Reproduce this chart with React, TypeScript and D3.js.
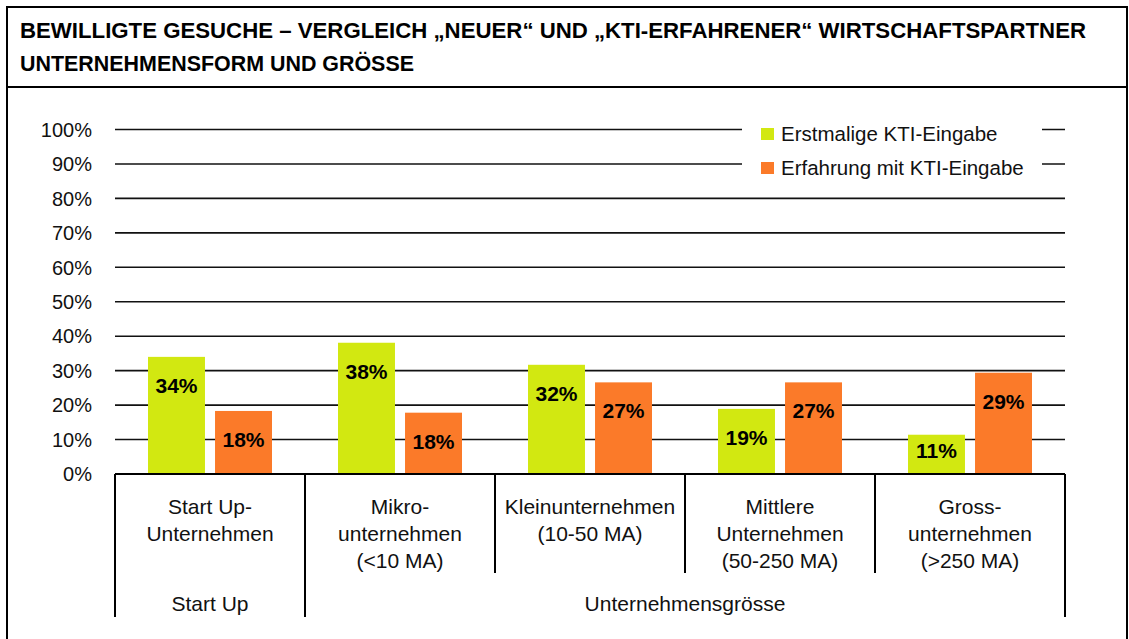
import React from 'react'
import * as d3 from 'd3'

const categories = ['Start Up', 'Mikro', 'Klein', 'Mittlere', 'Gross']
const categoryLines = [
  ['Start Up-', 'Unternehmen'],
  ['Mikro-', 'unternehmen', '(<10 MA)'],
  ['Kleinunternehmen', '(10-50 MA)'],
  ['Mittlere', 'Unternehmen', '(50-250 MA)'],
  ['Gross-', 'unternehmen', '(>250 MA)'],
]
const groupLabels = ['Start Up', 'Unternehmensgrösse']
const groupSpans = [[0, 0], [1, 4]]
const seriesNames = ['Erstmalige KTI-Eingabe', 'Erfahrung mit KTI-Eingabe']
const seriesColors = ['#d2e811', '#fb7a29']
const erstmalig = [34.0, 38.1, 31.7, 18.9, 11.4]
const erfahren = [18.3, 17.8, 26.6, 26.6, 29.4]
const yTicks = [0, 10, 20, 30, 40, 50, 60, 70, 80, 90, 100]
const titleLines = [
  'BEWILLIGTE GESUCHE – VERGLEICH „NEUER“ UND „KTI-ERFAHRENER“ WIRTSCHAFTSPARTNER',
  'UNTERNEHMENSFORM UND GRÖSSE',
]

const W = 1129
const H = 639
const font = "'Liberation Sans', Arial, sans-serif"

export default function App() {
  const x = d3.scaleBand().domain(categories).range([115, 1065]).padding(0)
  const inner = d3.scaleBand().domain(seriesNames).range([33, 157]).paddingInner(0.15).paddingOuter(0)
  const y = d3.scaleLinear().domain([0, 100]).range([474, 129.5])
  const series = [erstmalig, erfahren]

  const xl = x.range()[0]
  const xr = x.range()[1]

  return (
    <svg width={W} height={H} style={{ position: 'absolute', left: 0, top: 0, display: 'block' }} fontFamily={font}>
      <rect x={0} y={0} width={W} height={H} fill="#fff" />
      {/* frame + title */}
      <rect x={7} y={7} width={1120} height={H + 20} fill="none" stroke="#000" strokeWidth={2} />
      <line x1={7} x2={1127} y1={87} y2={87} stroke="#000" strokeWidth={2} />
      <text x={20} y={38} fontSize={22} fontWeight="bold" textLength={1066} lengthAdjust="spacingAndGlyphs">{titleLines[0]}</text>
      <text x={20} y={71} fontSize={22} fontWeight="bold" textLength={394} lengthAdjust="spacingAndGlyphs">{titleLines[1]}</text>

      {/* gridlines */}
      {yTicks.filter(t => t > 0).map(t => (
        <line key={t} x1={xl} x2={xr} y1={y(t)} y2={y(t)} stroke="#111" strokeWidth={1.6} />
      ))}
      {yTicks.map(t => (
        <text key={'l' + t} x={92} y={y(t)} dy="0.36em" textAnchor="end" fontSize={20} fill="#111">{t}%</text>
      ))}

      {/* bars */}
      {categories.map((c, i) => (
        <g key={c}>
          {series.map((s, k) => {
            const bx = (x(c) as number) + (inner(seriesNames[k]) as number)
            const top = y(s[i])
            const ly = Math.min(top + 36, y(0) - 16)
            return (
              <g key={k}>
                <rect x={bx} y={top} width={inner.bandwidth()} height={y(0) - top} fill={seriesColors[k]} />
                <text x={bx + inner.bandwidth() / 2} y={ly} textAnchor="middle" fontSize={21} fontWeight="bold" fill="#000">
                  {Math.round(s[i])}%
                </text>
              </g>
            )
          })}
        </g>
      ))}

      {/* axis */}
      <line x1={xl} x2={xr} y1={y(0)} y2={y(0)} stroke="#000" strokeWidth={2} />
      {categories.map((c, i) => {
        const isOuter = i === 0 || i === 1
        return (
          <line key={'s' + c} x1={x(c)} x2={x(c)} y1={y(0)} y2={isOuter ? 617 : 573} stroke="#000" strokeWidth={2} />
        )
      })}
      <line x1={xr} x2={xr} y1={y(0)} y2={617} stroke="#000" strokeWidth={2} />
      {categories.map((c, i) => (
        <text key={'c' + c} textAnchor="middle" fontSize={21} fill="#111">
          {categoryLines[i].map((ln, j) => (
            <tspan key={j} x={(x(c) as number) + x.bandwidth() / 2} y={514 + j * 27}>{ln}</tspan>
          ))}
        </text>
      ))}
      {groupLabels.map((g, i) => {
        const a = x(categories[groupSpans[i][0]]) as number
        const b = (x(categories[groupSpans[i][1]]) as number) + x.bandwidth()
        return (
          <text key={g} x={(a + b) / 2} y={611} textAnchor="middle" fontSize={21} fill="#111">{g}</text>
        )
      })}

      {/* legend */}
      <rect x={742} y={115} width={300} height={72} fill="#fff" />
      {seriesNames.map((n, k) => (
        <g key={n} transform={`translate(761, ${128 + k * 34})`}>
          <rect x={0} y={0} width={13} height={12} fill={seriesColors[k]} />
          <text x={20} y={13} fontSize={20.5} fill="#111">{n}</text>
        </g>
      ))}
    </svg>
  )
}
